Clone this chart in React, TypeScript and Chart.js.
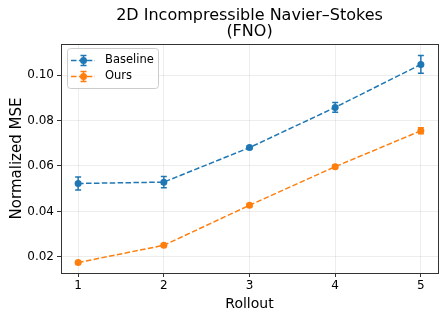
import React, { useEffect, useRef } from "react";
import { Chart, registerables } from "chart.js";

Chart.register(...registerables);

const rollouts = [1, 2, 3, 4, 5];
const baselineMean = [0.0523, 0.0529, 0.0681, 0.0858, 0.1047];
const baselineErr = [0.0029, 0.0025, 0.0006, 0.0021, 0.0039];
const oursMean = [0.0175, 0.0251, 0.0427, 0.0597, 0.0755];
const oursErr = [0.0004, 0.0005, 0.0006, 0.0007, 0.0013];
const yTicks = [0.02, 0.04, 0.06, 0.08, 0.1];
const xTicks = [1, 2, 3, 4, 5];
const seriesNames = ["Baseline", "Ours"];
const titleLines = ["2D Incompressible Navier\u2013Stokes", "(FNO)"];
const xTitle = "Rollout";
const yTitle = "Normalized MSE";

const BLUE = "#1f77b4";
const ORANGE = "#ff7f0e";
const FONT = "'DejaVu Sans', sans-serif";

const errs = [baselineErr, oursErr];

const decorPlugin = {
  id: "decor",
  afterDatasetsDraw(chart: any) {
    const { ctx, chartArea, scales } = chart;
    const xs = scales.x;
    const ys = scales.y;
    ctx.save();
    // error bars
    chart.data.datasets.forEach((ds: any, i: number) => {
      ctx.strokeStyle = ds.borderColor;
      ctx.lineWidth = 1.5;
      ctx.setLineDash([]);
      ds.data.forEach((p: any, j: number) => {
        const e = errs[i][j];
        const px = xs.getPixelForValue(p.x);
        const y1 = ys.getPixelForValue(p.y - e);
        const y2 = ys.getPixelForValue(p.y + e);
        ctx.beginPath();
        ctx.moveTo(px, y1);
        ctx.lineTo(px, y2);
        ctx.moveTo(px - 3, y1);
        ctx.lineTo(px + 3, y1);
        ctx.moveTo(px - 3, y2);
        ctx.lineTo(px + 3, y2);
        ctx.stroke();
      });
    });
    // frame
    ctx.strokeStyle = "#333";
    ctx.lineWidth = 1;
    ctx.strokeRect(
      Math.round(chartArea.left) + 0.5,
      Math.round(chartArea.top) + 0.5,
      Math.round(chartArea.right - chartArea.left),
      Math.round(chartArea.bottom - chartArea.top)
    );
    // legend
    const lx = chartArea.left + 6;
    const ly = chartArea.top + 4;
    const lw = 91;
    const lh = 40;
    ctx.fillStyle = "rgba(255,255,255,0.8)";
    ctx.strokeStyle = "#cccccc";
    ctx.lineWidth = 1;
    ctx.beginPath();
    (ctx as any).roundRect(lx + 0.5, ly + 0.5, lw, lh, 3);
    ctx.fill();
    ctx.stroke();
    const colors = [BLUE, ORANGE];
    seriesNames.forEach((name, i) => {
      const cy = ly + 12.5 + i * 16;
      const c = colors[i];
      ctx.strokeStyle = c;
      ctx.lineWidth = 1.5;
      ctx.setLineDash([5.5, 2.4]);
      ctx.beginPath();
      ctx.moveTo(lx + 4, cy);
      ctx.lineTo(lx + 28, cy);
      ctx.stroke();
      ctx.setLineDash([]);
      const mx = lx + 16.5;
      ctx.beginPath();
      ctx.moveTo(mx, cy - 5);
      ctx.lineTo(mx, cy + 5);
      ctx.moveTo(mx - 3, cy - 5);
      ctx.lineTo(mx + 3, cy - 5);
      ctx.moveTo(mx - 3, cy + 5);
      ctx.lineTo(mx + 3, cy + 5);
      ctx.stroke();
      ctx.fillStyle = c;
      ctx.beginPath();
      ctx.arc(mx, cy, 3.5, 0, Math.PI * 2);
      ctx.fill();
      ctx.fillStyle = "#000";
      ctx.font = `11.5px ${FONT}`;
      ctx.textBaseline = "middle";
      ctx.textAlign = "left";
      ctx.fillText(name, lx + 38, cy);
    });
    // title
    ctx.fillStyle = "#000";
    ctx.font = `16px ${FONT}`;
    ctx.textAlign = "center";
    ctx.textBaseline = "middle";
    const cx = (chartArea.left + chartArea.right) / 2;
    titleLines.forEach((t, i) => ctx.fillText(t, cx, 16 + i * 16));
    ctx.restore();
  },
};

export default function App() {
  const ref = useRef<HTMLCanvasElement | null>(null);
  useEffect(() => {
    document.body.style.margin = "0";
    const mk = (m: number[]) => m.map((v, i) => ({ x: rollouts[i], y: v }));
    const chart = new Chart(ref.current as HTMLCanvasElement, {
      type: "line",
      data: {
        datasets: [
          {
            label: seriesNames[0],
            data: mk(baselineMean),
            borderColor: BLUE,
            backgroundColor: BLUE,
            borderWidth: 1.5,
            borderDash: [5.5, 2.4],
            pointRadius: 3.5,
            pointBorderWidth: 0,
            tension: 0,
          },
          {
            label: seriesNames[1],
            data: mk(oursMean),
            borderColor: ORANGE,
            backgroundColor: ORANGE,
            borderWidth: 1.5,
            borderDash: [5.5, 2.4],
            pointRadius: 3.5,
            pointBorderWidth: 0,
            tension: 0,
          },
        ],
      },
      options: {
        animation: false,
        responsive: false,
        maintainAspectRatio: false,
        layout: { padding: { top: 44, right: 10, left: 0, bottom: 0 } },
        plugins: {
          legend: { display: false },
          title: { display: false },
          tooltip: { enabled: false },
        },
        scales: {
          x: {
            type: "linear",
            min: 0.8,
            max: 5.2,
            afterBuildTicks: (s: any) => {
              s.ticks = xTicks.map((v) => ({ value: v }));
            },
            afterFit: (s: any) => {
              s.height = 47;
            },
            ticks: {
              color: "#000",
              font: { family: FONT, size: 12 },
              padding: 2,
              maxRotation: 0,
              callback: (v: any) => String(v),
            },
            grid: {
              color: "rgba(0,0,0,0.07)",
              tickColor: "#333",
              tickLength: 4,
            },
            border: { color: "#333" },
            title: {
              display: true,
              text: xTitle,
              color: "#000",
              font: { family: FONT, size: 14 },
              padding: { top: 2, bottom: 7 },
            },
          },
          y: {
            type: "linear",
            min: 0.0129,
            max: 0.1137,
            afterBuildTicks: (s: any) => {
              s.ticks = yTicks.map((v) => ({ value: v }));
            },
            afterFit: (s: any) => {
              s.width = 61;
            },
            ticks: {
              color: "#000",
              font: { family: FONT, size: 12 },
              padding: 3,
              callback: (v: any) => Number(v).toFixed(2),
            },
            grid: {
              color: "rgba(0,0,0,0.07)",
              tickColor: "#333",
              tickLength: 4,
            },
            border: { color: "#333" },
            title: {
              display: true,
              text: yTitle,
              color: "#000",
              font: { family: FONT, size: 15 },
              padding: { top: 8, bottom: 4 },
            },
          },
        },
      },
      plugins: [decorPlugin],
    } as any);
    return () => chart.destroy();
  }, []);
  return (
    <div style={{ position: "fixed", left: 0, top: 0, width: 448, height: 320, background: "#fff" }}>
      <canvas ref={ref} width={448} height={320} style={{ width: 448, height: 320 }} />
    </div>
  );
}
